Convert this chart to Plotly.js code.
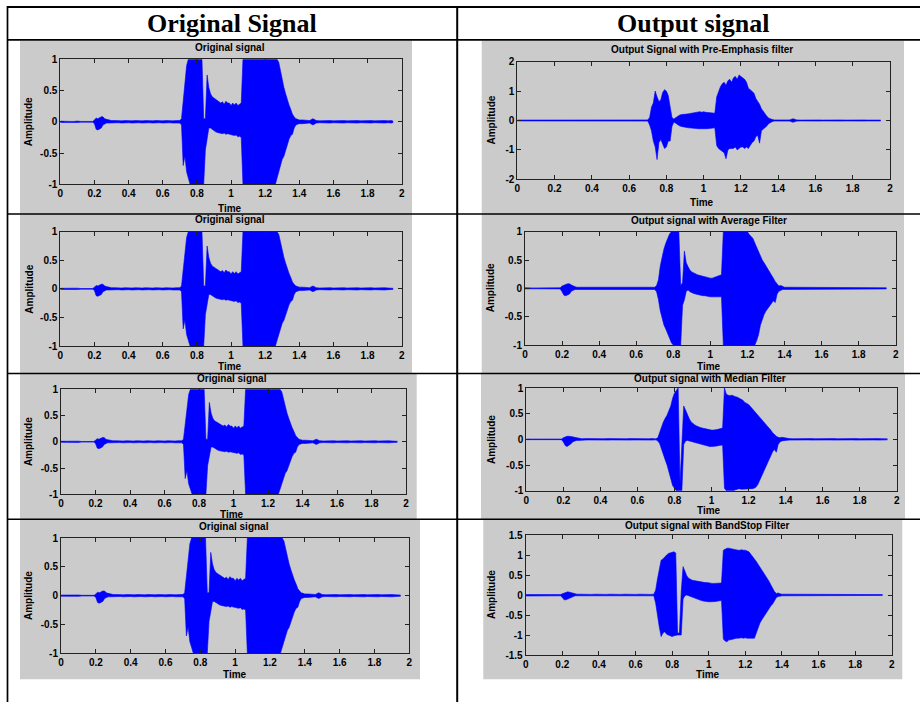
<!DOCTYPE html>
<html><head><meta charset="utf-8">
<script src="https://cdn.plot.ly/plotly-3.0.1.min.js"></script>
<style>html,body{margin:0;padding:0;background:#fff;}#chart{width:920px;height:702px;}</style>
</head><body><div id="chart"></div>
<script>
// ---- time grid (s) ----
const TIME = [
 0,0.02,0.04,0.06,0.08,0.1,0.12,0.14,0.16,0.18,
 0.19,0.2,0.21,0.22,0.23,0.24,0.25,0.26,0.27,0.28,
 0.3,0.32,0.34,0.36,0.38,0.4,0.42,0.44,0.46,0.48,0.5,0.52,0.54,0.56,0.58,0.6,0.62,0.64,0.66,0.68,
 0.7,0.71,0.72,0.73,0.74,0.75,0.76,0.77,0.78,0.79,0.8,0.81,0.82,0.83,
 0.84,0.85,0.86,0.87,0.88,0.89,0.9,0.91,0.92,0.93,0.94,0.95,0.96,0.97,0.98,0.99,1,1.01,1.02,1.03,1.04,1.05,1.06,
 1.07,1.08,1.09,1.1,1.11,1.12,1.13,1.14,1.15,1.16,1.17,1.18,1.19,1.2,1.21,1.22,1.23,1.24,1.25,1.26,
 1.27,1.28,1.29,1.3,1.31,1.32,1.33,1.34,1.35,1.36,1.37,1.38,1.39,1.4,
 1.42,1.44,1.46,1.48,1.5,1.52,1.54,1.56,1.58,1.6,1.62,1.64,1.66,1.68,1.7,1.72,1.74,1.76,1.78,1.8,1.82,1.84,1.86,1.88,1.9,1.92,1.94,1.95
];

// ---- original signal: upper / lower envelope ----
const ORIG_HI = [
 0.01,0.012,0.006,0.006,0.006,0.012,0.006,0.006,0.006,0.006,
 0.006,0.03,0.06,0.05,0.07,0.08,0.08,0.05,0.04,0.03,
 0.02,0.02,0.015,0.015,0.02,0.015,0.015,0.02,0.015,0.015,0.02,0.015,0.015,0.02,0.015,0.015,0.02,0.015,0.015,0.02,
 0.02,0.05,0.3,0.6,0.9,1,1,1,1,1,1,1,1,1,
 0.05,0.05,0.75,0.55,0.45,0.4,0.38,0.36,0.33,0.32,0.3,0.32,0.28,0.33,0.3,0.3,0.26,0.3,0.27,0.3,0.26,0.28,0.3,
 1,1,1,1,1,1,1,1,1,1,1,1,1,1,1,1,1,1,1,1,
 1,0.95,0.8,0.65,0.55,0.45,0.35,0.27,0.2,0.12,0.08,0.05,0.04,0.03,
 0.03,0.02,0.02,0.05,0.02,0.015,0.02,0.015,0.02,0.015,0.02,0.015,0.02,0.015,0.02,0.015,0.02,0.015,0.02,0.015,0.02,0.015,0.02,0.015,0.02,0.015,0.02,0.01
];
const ORIG_LO = [
 -0.01,-0.012,-0.006,-0.006,-0.006,-0.012,-0.006,-0.006,-0.006,-0.006,
 -0.006,-0.03,-0.12,-0.13,-0.12,-0.1,-0.05,-0.03,-0.02,-0.02,
 -0.015,-0.02,-0.015,-0.02,-0.015,-0.015,-0.02,-0.015,-0.015,-0.02,-0.015,-0.015,-0.02,-0.015,-0.015,-0.02,-0.015,-0.015,-0.02,-0.015,
 -0.02,-0.05,-0.7,-0.55,-0.8,-0.9,-1,-1,-1,-1,-1,-1,-1,-1,
 -1,-0.45,-0.3,-0.1,-0.1,-0.12,-0.15,-0.16,-0.17,-0.18,-0.18,-0.19,-0.18,-0.2,-0.19,-0.2,-0.2,-0.21,-0.22,-0.21,-0.24,-0.23,-0.25,
 -1,-1,-1,-1,-1,-1,-1,-1,-1,-1,-1,-1,-1,-1,-1,-1,-1,-1,-1,-1,
 -0.9,-0.8,-0.72,-0.6,-0.55,-0.45,-0.35,-0.28,-0.22,-0.2,-0.1,-0.05,-0.04,-0.03,
 -0.03,-0.02,-0.02,-0.05,-0.02,-0.015,-0.02,-0.015,-0.02,-0.015,-0.02,-0.015,-0.02,-0.015,-0.02,-0.015,-0.02,-0.015,-0.02,-0.015,-0.02,-0.015,-0.02,-0.015,-0.02,-0.015,-0.02,-0.01
];

// ---- pre-emphasis output ----
const PRE_HI = [
 0.015,0.015,0.015,0.015,0.015,0.015,0.015,0.015,0.015,0.015,
 0.015,0.02,0.03,0.03,0.03,0.03,0.025,0.02,0.02,0.015,
 0.015,0.02,0.015,0.02,0.015,0.02,0.015,0.02,0.015,0.02,0.015,0.02,0.015,0.02,0.015,0.02,0.015,0.02,0.015,0.02,
 0.02,0.1,0.45,0.6,1.0,0.8,0.65,0.7,0.95,1.05,1.0,0.85,0.4,0.1,
 0.05,0.1,0.15,0.18,0.2,0.2,0.22,0.22,0.23,0.24,0.25,0.26,0.28,0.28,0.3,0.28,0.3,0.28,0.27,0.28,0.26,0.25,0.25,
 0.8,1.0,1.15,1.25,1.3,1.2,1.35,1.4,1.3,1.45,1.5,1.4,1.55,1.5,1.45,1.4,1.3,1.1,1.05,1.0,
 0.93,0.75,0.65,0.55,0.4,0.3,0.2,0.14,0.08,0.05,0.03,0.02,0.02,0.02,
 0.02,0.02,0.02,0.06,0.02,0.015,0.02,0.015,0.02,0.015,0.02,0.015,0.02,0.015,0.02,0.015,0.02,0.015,0.02,0.015,0.02,0.015,0.02,0.015,0.02,0.015,0.02,0.015
];
const PRE_LO = [
 -0.015,-0.015,-0.015,-0.015,-0.015,-0.015,-0.015,-0.015,-0.015,-0.015,
 -0.015,-0.02,-0.03,-0.03,-0.03,-0.03,-0.025,-0.02,-0.02,-0.015,
 -0.015,-0.02,-0.015,-0.02,-0.015,-0.02,-0.015,-0.02,-0.015,-0.02,-0.015,-0.02,-0.015,-0.02,-0.015,-0.02,-0.015,-0.02,-0.015,-0.02,
 -0.02,-0.15,-0.35,-0.7,-0.9,-1.33,-0.75,-0.65,-0.8,-0.95,-0.9,-0.7,-0.7,-0.2,
 -0.05,-0.1,-0.15,-0.18,-0.2,-0.22,-0.22,-0.24,-0.25,-0.25,-0.26,-0.27,-0.27,-0.28,-0.28,-0.3,-0.3,-0.28,-0.28,-0.27,-0.27,-0.25,-0.25,
 -0.85,-0.95,-1.0,-1.05,-1.1,-1.3,-1.0,-0.95,-0.95,-0.95,-0.9,-1.0,-0.95,-0.9,-0.9,-0.95,-0.9,-0.95,-0.85,-0.75,
 -0.7,-0.55,-0.5,-0.77,-0.35,-0.3,-0.22,-0.18,-0.1,-0.06,-0.03,-0.02,-0.02,-0.02,
 -0.02,-0.02,-0.02,-0.06,-0.02,-0.015,-0.02,-0.015,-0.02,-0.015,-0.02,-0.015,-0.02,-0.015,-0.02,-0.015,-0.02,-0.015,-0.02,-0.015,-0.02,-0.015,-0.02,-0.015,-0.02,-0.015,-0.02,-0.015
];

// ---- average filter output ----
const AVG_HI = [
 0.01,0.015,0.008,0.008,0.008,0.015,0.008,0.008,0.008,0.008,
 0.01,0.04,0.06,0.07,0.08,0.08,0.06,0.04,0.03,0.02,
 0.02,0.015,0.02,0.015,0.02,0.015,0.02,0.015,0.02,0.015,0.02,0.015,0.02,0.015,0.02,0.015,0.02,0.015,0.02,0.015,
 0.02,0.05,0.15,0.4,0.56,0.7,0.8,0.9,0.96,1,1,1,1,1,
 0.05,0.1,0.66,0.45,0.38,0.32,0.29,0.27,0.25,0.24,0.23,0.22,0.21,0.2,0.19,0.19,0.18,0.18,0.19,0.2,0.21,0.22,0.24,
 1,1,1,1,1,1,1,1,1,1,1,1,1,1,0.95,0.92,0.88,0.8,0.72,0.64,
 0.56,0.5,0.45,0.4,0.33,0.29,0.24,0.18,0.12,0.07,0.04,0.05,0.04,0.02,
 0.02,0.02,0.015,0.02,0.015,0.02,0.015,0.02,0.015,0.02,0.015,0.02,0.015,0.02,0.015,0.02,0.015,0.02,0.015,0.02,0.015,0.02,0.015,0.02,0.015,0.02,0.015,0.01
];
const AVG_LO = [
 -0.01,-0.015,-0.008,-0.008,-0.008,-0.015,-0.008,-0.008,-0.008,-0.008,
 -0.01,-0.06,-0.12,-0.13,-0.12,-0.1,-0.05,-0.03,-0.02,-0.02,
 -0.02,-0.015,-0.02,-0.015,-0.02,-0.015,-0.02,-0.015,-0.02,-0.015,-0.02,-0.015,-0.02,-0.015,-0.02,-0.015,-0.02,-0.015,-0.02,-0.015,
 -0.02,-0.06,-0.2,-0.4,-0.55,-0.65,-0.72,-0.8,-0.9,-0.96,-1,-1,-1,-1,
 -1,-0.3,-0.2,-0.05,-0.03,-0.06,-0.08,-0.09,-0.1,-0.11,-0.12,-0.12,-0.13,-0.13,-0.14,-0.14,-0.15,-0.15,-0.15,-0.15,-0.16,-0.15,-0.15,
 -1,-1,-1,-1,-1,-1,-1,-1,-1,-1,-1,-1,-1,-1,-1,-1,-1,-1,-0.92,-0.82,
 -0.65,-0.55,-0.46,-0.4,-0.35,-0.3,-0.26,-0.22,-0.25,-0.1,-0.05,-0.03,-0.02,-0.02,
 -0.02,-0.02,-0.015,-0.02,-0.015,-0.02,-0.015,-0.02,-0.015,-0.02,-0.015,-0.02,-0.015,-0.02,-0.015,-0.02,-0.015,-0.02,-0.015,-0.02,-0.015,-0.02,-0.015,-0.02,-0.015,-0.02,-0.015,-0.01
];

// ---- median filter output ----
const MED_HI = [
 0.006,0.012,0.006,0.006,0.006,0.012,0.006,0.006,0.006,0.006,
 0.006,0.03,0.05,0.06,0.06,0.06,0.05,0.04,0.03,0.02,
 0.012,0.015,0.012,0.015,0.012,0.015,0.012,0.015,0.012,0.015,0.012,0.015,0.012,0.015,0.012,0.015,0.012,0.015,0.012,0.015,
 0.01,0.03,0.15,0.25,0.34,0.41,0.47,0.56,0.65,0.8,0.9,0.95,1,-0.85,
 0.0,0.65,0.57,0.47,0.4,0.34,0.3,0.28,0.26,0.24,0.23,0.22,0.21,0.2,0.19,0.18,0.18,0.18,0.18,0.19,0.2,0.21,0.22,
 1,0.88,0.86,0.85,0.86,0.84,0.83,0.82,0.8,0.78,0.76,0.72,0.7,0.68,0.64,0.6,0.56,0.5,0.46,0.43,
 0.4,0.36,0.32,0.27,0.23,0.18,0.13,0.09,0.06,0.04,0.03,0.04,0.03,0.02,
 0.015,0.012,0.015,0.012,0.015,0.012,0.015,0.012,0.015,0.012,0.015,0.012,0.015,0.012,0.015,0.012,0.015,0.012,0.015,0.012,0.015,0.012,0.015,0.012,0.015,0.012,0.015,0.01
];
const MED_LO = [
 -0.006,-0.012,-0.006,-0.006,-0.006,-0.012,-0.006,-0.006,-0.006,-0.006,
 -0.006,-0.05,-0.12,-0.14,-0.12,-0.09,-0.05,-0.03,-0.02,-0.02,
 -0.012,-0.015,-0.012,-0.015,-0.012,-0.015,-0.012,-0.015,-0.012,-0.015,-0.012,-0.015,-0.012,-0.015,-0.012,-0.015,-0.012,-0.015,-0.012,-0.015,
 -0.01,-0.03,-0.08,-0.2,-0.3,-0.4,-0.5,-0.65,-0.8,-0.9,-0.95,-1,-1,-1,
 -1,-0.1,-0.03,-0.02,-0.03,-0.04,-0.05,-0.06,-0.07,-0.09,-0.1,-0.11,-0.12,-0.13,-0.14,-0.14,-0.14,-0.14,-0.14,-0.13,-0.12,-0.12,-0.11,
 -0.95,-1,-1,-1,-1,-1,-0.98,-0.97,-0.96,-0.97,-0.97,-0.96,-0.96,-0.97,-0.97,-0.96,-0.95,-0.93,-0.88,-0.8,
 -0.72,-0.65,-0.56,-0.46,-0.38,-0.3,-0.24,-0.2,-0.25,-0.1,-0.05,-0.03,-0.02,-0.02,
 -0.015,-0.012,-0.015,-0.012,-0.015,-0.012,-0.015,-0.012,-0.015,-0.012,-0.015,-0.012,-0.015,-0.012,-0.015,-0.012,-0.015,-0.012,-0.015,-0.012,-0.015,-0.012,-0.015,-0.012,-0.015,-0.012,-0.015,-0.01
];

// ---- band-stop filter output ----
const BS_HI = [
 0.01,0.01,0.01,0.01,0.01,0.01,0.01,0.01,0.01,0.01,
 0.01,0.03,0.05,0.06,0.08,0.07,0.06,0.04,0.03,0.02,
 0.02,0.015,0.02,0.015,0.02,0.015,0.02,0.015,0.02,0.015,0.02,0.015,0.02,0.015,0.02,0.015,0.02,0.015,0.02,0.015,
 0.02,0.12,0.4,0.65,0.87,0.9,0.96,1.0,1.04,1.06,1.08,1.08,1.05,-0.95,
 -0.95,0.1,0.71,0.58,0.48,0.42,0.39,0.37,0.36,0.35,0.34,0.33,0.33,0.32,0.31,0.31,0.3,0.3,0.29,0.29,0.29,0.29,0.29,
 0.3,1.12,1.15,1.17,1.17,1.16,1.15,1.13,1.12,1.12,1.12,1.13,1.12,1.12,1.1,1.08,1.02,0.97,0.9,0.84,
 0.77,0.71,0.64,0.58,0.5,0.42,0.34,0.25,0.15,0.08,0.04,0.05,0.03,0.02,
 0.02,0.02,0.015,0.02,0.015,0.02,0.015,0.02,0.015,0.02,0.015,0.02,0.015,0.02,0.015,0.02,0.015,0.02,0.015,0.02,0.015,0.02,0.015,0.02,0.015,0.02,0.015,0.01
];
const BS_LO = [
 -0.025,-0.025,-0.025,-0.025,-0.025,-0.025,-0.025,-0.025,-0.025,-0.025,
 -0.02,-0.06,-0.12,-0.12,-0.1,-0.08,-0.04,-0.02,-0.02,-0.02,
 -0.02,-0.015,-0.02,-0.015,-0.02,-0.015,-0.02,-0.015,-0.02,-0.015,-0.02,-0.015,-0.02,-0.015,-0.02,-0.015,-0.02,-0.015,-0.02,-0.015,
 -0.02,-0.2,-0.55,-0.8,-1.04,-0.95,-0.92,-0.98,-1.0,-1.03,-1.04,-1.02,-1.0,-1.0,
 -1.0,-1.0,-0.1,-0.02,0.0,-0.02,-0.04,-0.06,-0.08,-0.1,-0.12,-0.13,-0.14,-0.15,-0.16,-0.17,-0.17,-0.17,-0.17,-0.17,-0.16,-0.15,-0.14,
 -0.14,-1.1,-1.15,-1.17,-1.12,-1.12,-1.1,-1.08,-1.08,-1.08,-1.07,-1.07,-1.08,-1.07,-1.08,-1.08,-1.08,-1.08,-1.08,-0.95,
 -0.8,-0.7,-0.62,-0.55,-0.45,-0.38,-0.32,-0.27,-0.22,-0.15,-0.06,-0.04,-0.02,-0.02,
 -0.02,-0.02,-0.015,-0.02,-0.015,-0.02,-0.015,-0.02,-0.015,-0.02,-0.015,-0.02,-0.015,-0.02,-0.015,-0.02,-0.015,-0.02,-0.015,-0.02,-0.015,-0.02,-0.015,-0.02,-0.015,-0.02,-0.015,-0.01
];

// ---- ticks & texts ----
const X_TICKS = [0,0.2,0.4,0.6,0.8,1,1.2,1.4,1.6,1.8,2];
const X_TICK_LABELS = ['0','0.2','0.4','0.6','0.8','1','1.2','1.4','1.6','1.8','2'];
const Y_TICKS_1 = [-1,-0.5,0,0.5,1];
const Y_TICK_LABELS_1 = ['-1','-0.5','0','0.5','1'];
const Y_TICKS_2 = [-2,-1,0,1,2];
const Y_TICK_LABELS_2 = ['-2','-1','0','1','2'];
const Y_TICKS_15 = [-1.5,-1,-0.5,0,0.5,1,1.5];
const Y_TICK_LABELS_15 = ['-1.5','-1','-0.5','0','0.5','1','1.5'];
const HEADERS = ['Original Signal','Output signal'];
const TITLES = ['Original signal','Original signal','Original signal','Original signal',
  'Output Signal with Pre-Emphasis filter','Output signal with Average Filter',
  'Output signal with Median Filter','Output signal with BandStop Filter'];
const X_LABEL = 'Time';
const Y_LABEL = 'Amplitude';

// ---- layout geometry (pixels) ----
const W = 920, H = 702;
const SIG = {orig:[ORIG_HI,ORIG_LO], pre:[PRE_HI,PRE_LO], avg:[AVG_HI,AVG_LO], med:[MED_HI,MED_LO], bs:[BS_HI,BS_LO]};
const YSET = {1:[Y_TICKS_1,Y_TICK_LABELS_1,[-1,1]], 2:[Y_TICKS_2,Y_TICK_LABELS_2,[-2,2]], 15:[Y_TICKS_15,Y_TICK_LABELS_15,[-1.5,1.5]]};
const PANELS = [
 {s:'orig', yk:1, plot:[60.3,59.3,401.7,184.3], gray:[20,40.5,412,214], title:[230,47], time:[230,208], amp:[28.5,121.8]},
 {s:'orig', yk:1, plot:[60.3,231.7,401.7,346], gray:[20,214,412,373.5], title:[230,220], time:[230,367], amp:[28.7,289]},
 {s:'orig', yk:1, plot:[61,389.3,406,494.3], gray:[20,373.5,416.7,519], title:[232.2,378.7], time:[232.3,514], amp:[28.3,441.8]},
 {s:'orig', yk:1, plot:[61,538,409.3,653.3], gray:[20,519,420,679.3], title:[234.2,526], time:[235,674.5], amp:[28.3,595.7]},
 {s:'pre', yk:2, plot:[517.3,61.7,890,179.3], gray:[481.7,40.5,904,214], title:[702,49], time:[702.3,203], amp:[491,120.5]},
 {s:'avg', yk:1, plot:[525,231.7,895.7,345], gray:[481.7,214,904,373.5], title:[709,220.7], time:[709,366], amp:[490,288.3]},
 {s:'med', yk:1, plot:[526.3,388,896.7,490.7], gray:[481,373.5,905,519], title:[709.7,378.3], time:[709.3,510.5], amp:[491.7,439.3]},
 {s:'bs', yk:15, plot:[525.7,535,891.7,655], gray:[483.3,519,902.3,679.3], title:[707.5,525], time:[707.7,674.5], amp:[491,595]}
];
const px = x => x / W, py = y => 1 - y / H;

const FONT = 'Liberation Sans, Arial, Helvetica, sans-serif';
const tickFont = {family: FONT, size: 10, color: '#000', weight: 700};
const BLUE = '#0000ff';
const data = [], layout = {
  width: W, height: H, autosize: false,
  margin: {l:0, r:0, t:0, b:0, pad:0},
  paper_bgcolor: '#ffffff', plot_bgcolor: '#ffffff',
  showlegend: false, hovermode: false,
  shapes: [], annotations: []
};

PANELS.forEach((p, k) => {
  const n = k + 1;
  const [hi, lo] = SIG[p.s];
  // upper envelope, then lower envelope filled up to it
  data.push({type:'scatter', mode:'lines', x:TIME, y:hi,
    xaxis:'x'+n, yaxis:'y'+n, line:{color:BLUE, width:0.6}});
  data.push({type:'scatter', mode:'lines', x:TIME, y:lo, fill:'tonexty', fillcolor:BLUE,
    xaxis:'x'+n, yaxis:'y'+n, line:{color:BLUE, width:0.6}});
  const ys = YSET[p.yk];
  const common = {ticks:'inside', ticklen:4, tickwidth:1, tickcolor:'#222', showline:true,
    linecolor:'#222', linewidth:1, mirror:'ticks', showgrid:false, zeroline:false,
    tickfont:tickFont, fixedrange:true, automargin:false};
  layout['xaxis'+n] = Object.assign({}, common, {domain:[px(p.plot[0]), px(p.plot[2])],
    anchor:'y'+n, range:[0,2], tickmode:'array', tickvals:X_TICKS, ticktext:X_TICK_LABELS});
  layout['yaxis'+n] = Object.assign({}, common, {domain:[py(p.plot[3]), py(p.plot[1])],
    anchor:'x'+n, range:ys[2], tickmode:'array', tickvals:ys[0], ticktext:ys[1]});
  layout.shapes.push({type:'rect', xref:'paper', yref:'paper', layer:'below',
    x0:px(p.gray[0]), x1:px(p.gray[2]), y0:py(p.gray[3]), y1:py(p.gray[1]),
    fillcolor:'#cbcbcb', line:{width:0}});
  const ann = (t, xy, extra) => layout.annotations.push(Object.assign({
    text:'<b>'+t+'</b>', xref:'paper', yref:'paper', x:px(xy[0]), y:py(xy[1]),
    xanchor:'center', yanchor:'middle', showarrow:false, borderpad:0,
    font:{family:FONT, size:10, color:'#000'}}, extra || {}));
  ann(TITLES[k], p.title);
  ann(X_LABEL, p.time);
  ann(Y_LABEL, p.amp, {textangle:-90});
});

// header texts
[[HEADERS[0], 232], [HEADERS[1], 693]].forEach(([t, x]) => {
  layout.annotations.push({text:'<b>'+t+'</b>', xref:'paper', yref:'paper', x:px(x), y:py(24),
    xanchor:'center', yanchor:'middle', showarrow:false,
    font:{family:'Liberation Serif, Times New Roman, serif', size:26, color:'#000'}});
});

// table rules
const rule = (x0,y0,x1,y1,w) => layout.shapes.push({type:'line', xref:'paper', yref:'paper', layer:'above',
  x0:px(x0), y0:py(y0), x1:px(x1), y1:py(y1), line:{color:'#000', width:w}});
rule(7, 7, 920, 7, 2);
rule(7, 39.8, 920, 39.8, 1.7);
rule(7, 214, 920, 214, 1.5);
rule(7, 373.5, 920, 373.5, 1.5);
rule(7, 519.3, 920, 519.3, 1.5);
rule(7.5, 6, 7.5, 702, 1.7);
rule(457.2, 6, 457.2, 702, 2);

Plotly.newPlot('chart', data, layout, {displayModeBar:false, staticPlot:true});
</script></body></html>
